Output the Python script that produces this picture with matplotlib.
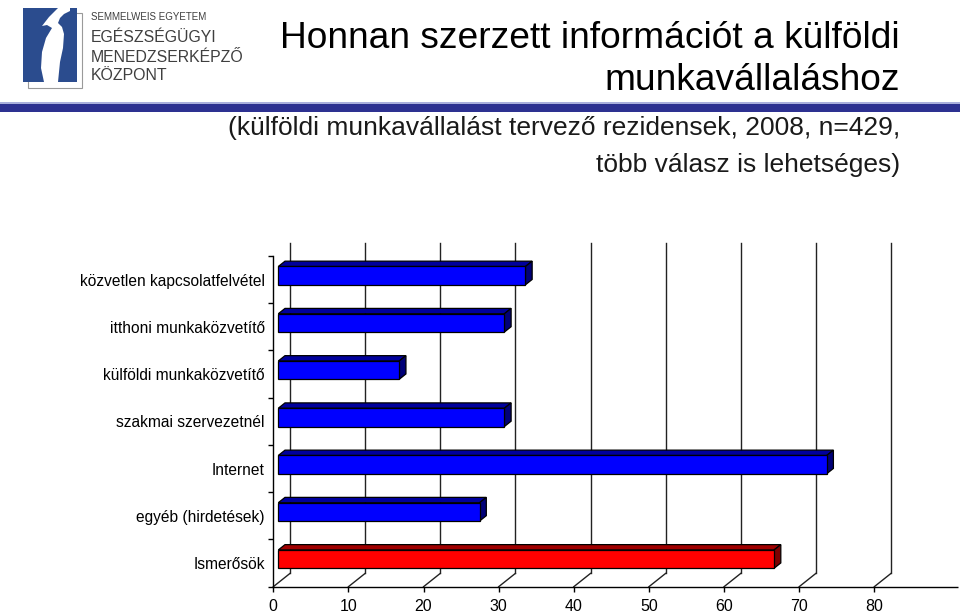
import matplotlib
matplotlib.use('Agg')
import matplotlib.pyplot as plt
from matplotlib.patches import Polygon, Rectangle

# ---------------- data ----------------
categories = ['közvetlen kapcsolatfelvétel', 'itthoni munkaközvetítő',
              'külföldi munkaközvetítő', 'szakmai szervezetnél', 'Internet',
              'egyéb (hirdetések)', 'Ismerősök']
values = [32.9, 30.1, 16.1, 30.1, 73.0, 26.8, 66.0]
bar_kind = ['blue', 'blue', 'blue', 'blue', 'blue', 'blue', 'red']
xticks = [0, 10, 20, 30, 40, 50, 60, 70, 80]
title_lines = ['Honnan szerzett információt a külföldi', 'munkavállaláshoz']
subtitle_lines = ['(külföldi munkavállalást tervező rezidensek, 2008, n=429,',
                  'több válasz is lehetséges)']
logo_lines = ['SEMMELWEIS EGYETEM', 'EGÉSZSÉGÜGYI', 'MENEDZSERKÉPZŐ', 'KÖZPONT']

plt.rcParams['font.family'] = ['Liberation Sans', 'DejaVu Sans']

W, H = 960, 612
fig = plt.figure(figsize=(9.6, 6.12), dpi=100)

# background / decoration axes in pixel coordinates
bg = fig.add_axes([0, 0, 1, 1], zorder=0)
bg.set_xlim(0, W)
bg.set_ylim(H, 0)
bg.axis('off')

# header band
bg.add_patch(Rectangle((0, 102), W, 2, color='#aab0dd', lw=0))
bg.add_patch(Rectangle((0, 104), W, 8, color='#2d3191', lw=0))

# logo
bg.add_patch(Rectangle((28, 13), 54, 75, fill=False, ec='#9a9a9a', lw=0.8))
bg.add_patch(Rectangle((23, 8), 54, 74, fc='#2b4c8e', ec='none'))
white_shape = [(58, 8), (70, 8), (70, 11), (64, 14), (60, 18), (58, 23),
               (62, 27), (64, 34), (63, 48), (60, 62), (58, 82), (44, 82),
               (41, 68), (42, 52), (46, 38), (52, 28), (47, 25), (42, 26),
               (49, 17)]
bg.add_patch(Polygon(white_shape, closed=True, fc='white', ec='none'))
logo_y = [17, 38, 57, 76]
logo_sz = [7.0, 11.4, 11.4, 11.4]
for t, yy, s in zip(logo_lines, logo_y, logo_sz):
    bg.text(91, yy, t, fontsize=s, color='#3f3f3f', ha='left', va='center')

# titles
for t, yy in zip(title_lines, [38, 80]):
    bg.text(900, yy, t, fontsize=26.7, color='black', ha='right', va='center')
for t, yy in zip(subtitle_lines, [128, 165]):
    bg.text(900, yy, t, fontsize=19, color='#1a1a1a', ha='right', va='center')

# ---------------- chart ----------------
x0_px, x80_px = 273.3, 874.3
ybot_px, ytop_px = 586.7, 256.0
ax = fig.add_axes([x0_px / W, (H - ybot_px) / H, (x80_px - x0_px) / W,
                   (ybot_px - ytop_px) / H], zorder=1)
ax.patch.set_alpha(0)
n = len(categories)
ax.set_xlim(0, 80)
ax.set_ylim(0, n)

px_x = (x80_px - x0_px) / 80.0
px_y = (ybot_px - ytop_px) / n
dx = 16.7 / px_x      # depth offset in data units
dy = 13.3 / px_y

for s in ['top', 'right', 'bottom']:
    ax.spines[s].set_visible(False)
ax.spines['left'].set_linewidth(1.0)

# front floor axis line extending to the right edge
ax.plot([0, (958 - x0_px) / px_x], [0, 0], color='black', lw=1.0,
        clip_on=False, zorder=3, solid_capstyle='butt')

# back wall gridlines and floor slants
for t in xticks:
    ax.plot([t, t + dx], [0, dy], color='#222222', lw=1.0, clip_on=False, zorder=1)
    ax.plot([t + dx, t + dx], [dy, n + dy], color='#222222', lw=1.0,
            clip_on=False, zorder=1)

colors = {
    'blue': ('#0000ff', '#00009c', '#000078'),
    'red': ('#ff0000', '#a00000', '#7c0000'),
}
h = 18.3 / px_y
f0, f1 = 0.3, 0.7
for i, (v, k) in enumerate(zip(values, bar_kind)):
    c = n - i - 0.5
    front, top, side = colors[k]
    xa = f0 * dx
    xb = v + f0 * dx
    yb = c - h / 2 + f0 * dy
    yt = c + h / 2 + f0 * dy
    ddx = (f1 - f0) * dx
    ddy = (f1 - f0) * dy
    ax.add_patch(Polygon([(xa, yt), (xb, yt), (xb + ddx, yt + ddy), (xa + ddx, yt + ddy)],
                         closed=True, fc=top, ec='black', lw=0.9, zorder=4, clip_on=False))
    ax.add_patch(Polygon([(xb, yb), (xb, yt), (xb + ddx, yt + ddy), (xb + ddx, yb + ddy)],
                         closed=True, fc=side, ec='black', lw=0.9, zorder=4, clip_on=False))
    ax.add_patch(Rectangle((xa, yb), v, h, fc=front, ec='black', lw=0.9, zorder=5,
                           clip_on=False))

# ticks
ax.set_xticks(xticks)
ax.set_xticklabels([str(t) for t in xticks], fontsize=11.5)
ax.tick_params(axis='x', direction='out', length=3.8, width=1.0, pad=5, colors='black')
ax.set_yticks([n - i - 0.5 for i in range(n)])
ax.set_yticklabels(categories, fontsize=11.2)
ax.set_yticks(list(range(n + 1)), minor=True)
ax.tick_params(axis='y', which='major', length=0, pad=6)
ax.tick_params(axis='y', which='minor', direction='out', length=3.8, width=1.0)

fig.savefig('out.png', dpi=100)
